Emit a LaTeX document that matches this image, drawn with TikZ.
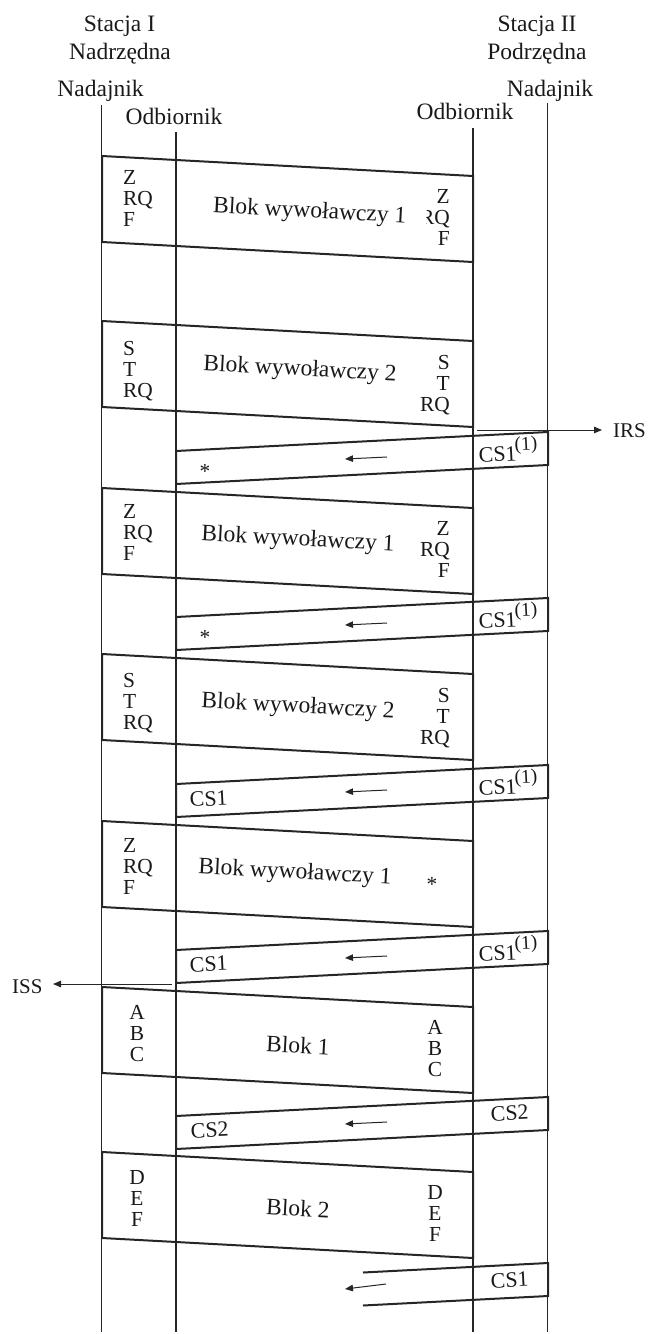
\documentclass[tikz,border=0pt]{standalone}
\usepackage{fontspec}
\setmainfont{Liberation Serif}
\usetikzlibrary{arrows.meta}
\tikzset{
  vline/.style={line width=1.1bp, black!85},
  blockframe/.style={line width=2bp, black!85, line join=miter},
  tip/.style={line width=1bp, black!85, -{Triangle[length=8bp,width=6.5bp]}},
  lab/.style={inner sep=0pt, font=\fontsize{23.6}{24}\selectfont, text=black!90},
  maintext/.style={inner sep=0pt, font=\fontsize{23.6}{24}\selectfont, text=black!90, rotate=-3.1},
  letter/.style={inner sep=0pt, font=\fontsize{21.5}{22}\selectfont, text=black!90},
  cslab/.style={inner sep=0pt, font=\fontsize{22}{22}\selectfont, text=black!90, rotate=2.9, anchor=base west},
  sidelab/.style={inner sep=0pt, font=\fontsize{21}{21}\selectfont, text=black!90, anchor=base west},
}
\newcommand\cssup{\kern-1.5bp\raisebox{10bp}{\fontsize{19.5}{19.5}\selectfont(1)}}
% #1 name, #2 x, #3 baseline y, #4 anchor, #5 #6 #7 lines
\newcommand\stackletters[7]{%
  \node[letter, anchor=#4] (#1-1) at (#2,{#3}) {#5};
  \node[letter, anchor=#4] (#1-2) at (#2,{#3+21}) {#6};
  \node[letter, anchor=#4] (#1-3) at (#2,{#3+42}) {#7};}
% #1 name, #2 top-left y
\newcommand\msgblock[2]{%
  \draw[blockframe] (102,{#2}) coordinate (#1-a) -- (473,{#2+20}) coordinate (#1-b)
     -- (473,{#2+106}) coordinate (#1-c) -- (102,{#2+86}) coordinate (#1-d) -- cycle;}
% #1 name, #2 top-right y
\newcommand\ackframe[2]{%
  \draw[blockframe] (176,{#2+19}) coordinate (#1-a) -- (548,{#2}) coordinate (#1-b)
     -- (548,{#2+33}) coordinate (#1-c) -- (176,{#2+52}) coordinate (#1-d) -- cycle;
  \coordinate (#1-p) at (387,{#2+25});
  \coordinate (#1-q) at (345,{#2+27});
  \draw[tip] (#1-p) -- (#1-q);}
\begin{document}
\begin{tikzpicture}[x=1bp,y=-1bp]
\useasboundingbox (0,0) rectangle (648,1334);

% headers
\node[lab, anchor=base] (st1) at (119.5,32) {Stacja I};
\node[lab, anchor=base] (nad1) at (120,60) {Nadrzędna};
\node[lab, anchor=base] (tx1) at (100.5,97) {Nadajnik};
\node[lab, anchor=base] (rx1) at (174,125) {Odbiornik};
\node[lab, anchor=base] (st2) at (537,32) {Stacja II};
\node[lab, anchor=base] (pod2) at (537,60) {Podrzędna};
\node[lab, anchor=base] (tx2) at (550,97) {Nadajnik};
\node[lab, anchor=base] (rx2) at (465,120) {Odbiornik};

% vertical lines
\coordinate (l1t) at (101.5,105); \coordinate (l1b) at (101.5,1332);
\coordinate (l2t) at (176,132);   \coordinate (l2b) at (176,1332);
\coordinate (l3t) at (473,128);   \coordinate (l3b) at (473,1332);
\coordinate (l4t) at (547.5,103); \coordinate (l4b) at (547.5,1332);
\draw[vline] (l1t) -- (l1b);
\draw[vline] (l2t) -- (l2b);
\draw[vline] (l3t) -- (l3b);
\draw[vline] (l4t) -- (l4b);

% block 1
\msgblock{b1}{156}
\stackletters{b1l}{123}{185}{base west}{Z}{RQ}{F}
\stackletters{b1r}{450}{204}{base east}{Z}{RQ}{F}
\node[maintext, anchor=west, fill=white, inner ysep=3bp] (b1t) at (213,207) {Blok wywoławczy 1\kern20bp};

% block 2
\msgblock{b2}{321}
\stackletters{b2l}{123}{355}{base west}{S}{T}{RQ}
\stackletters{b2r}{450}{369}{base east}{S}{T}{RQ}
\node[maintext] (b2t) at (300,370) {Blok wywoławczy 2};

% IRS
\coordinate (irs-s) at (477,430);
\coordinate (irs-e) at (602,430);
\draw[tip] (irs-s) -- (irs-e);
\node[sidelab] (irs) at (613,437) {IRS};

% ack 1
\ackframe{c1}{432}
\node[letter, anchor=base] (c1s) at (205,478) {*};
\node[cslab] (c1r) at (479,462.5) {CS1\cssup};

% block 3
\msgblock{b3}{488}
\stackletters{b3l}{123}{518}{base west}{Z}{RQ}{F}
\stackletters{b3r}{450}{535}{base east}{Z}{RQ}{F}
\node[maintext] (b3t) at (298,540) {Blok wywoławczy 1};

% ack 2
\ackframe{c2}{598}
\node[letter, anchor=base] (c2s) at (205,644) {*};
\node[cslab] (c2r) at (479,628.5) {CS1\cssup};

% block 4
\msgblock{b4}{654}
\stackletters{b4l}{123}{687}{base west}{S}{T}{RQ}
\stackletters{b4r}{450}{702}{base east}{S}{T}{RQ}
\node[maintext] (b4t) at (298,707) {Blok wywoławczy 2};

% ack 3
\ackframe{c3}{765}
\node[cslab] (c3l) at (190,807) {CS1};
\node[cslab] (c3r) at (479,795.5) {CS1\cssup};

% block 5
\msgblock{b5}{821}
\stackletters{b5l}{123}{852}{base west}{Z}{RQ}{F}
\node[maintext] (b5t) at (295,873) {Blok wywoławczy 1};
\node[letter, anchor=base] (b5s) at (432,891) {*};

% ack 4
\ackframe{c4}{931}
\node[cslab] (c4l) at (190,972) {CS1};
\node[cslab] (c4r) at (479,961.5) {CS1\cssup};

% ISS
\coordinate (iss-s) at (172,984);
\coordinate (iss-e) at (53,984);
\draw[tip] (iss-s) -- (iss-e);
\node[sidelab] (iss) at (12,993) {ISS};

% block 6
\msgblock{b6}{987}
\stackletters{b6l}{137}{1019}{base}{A}{B}{C}
\stackletters{b6r}{435}{1034}{base}{A}{B}{C}
\node[maintext] (b6t) at (298,1045) {Blok 1};

% ack 5
\ackframe{c5}{1097}
\node[cslab] (c5l) at (191,1138) {CS2};
\node[cslab] (c5r) at (491,1121) {CS2};

% block 7
\msgblock{b7}{1152}
\stackletters{b7l}{137}{1184.5}{base}{D}{E}{F}
\stackletters{b7r}{435}{1199}{base}{D}{E}{F}
\node[maintext] (b7t) at (298,1208) {Blok 2};

% final open ack
\draw[blockframe] (363,1272.5) coordinate (c6-a) -- (548,1263) coordinate (c6-b)
   -- (548,1296) coordinate (c6-c) -- (363,1305.5) coordinate (c6-d);
\coordinate (c6-p) at (386,1284);
\coordinate (c6-q) at (345,1289);
\draw[tip] (c6-p) -- (c6-q);
\node[cslab] (c6r) at (491,1288) {CS1};
\end{tikzpicture}
\end{document}
